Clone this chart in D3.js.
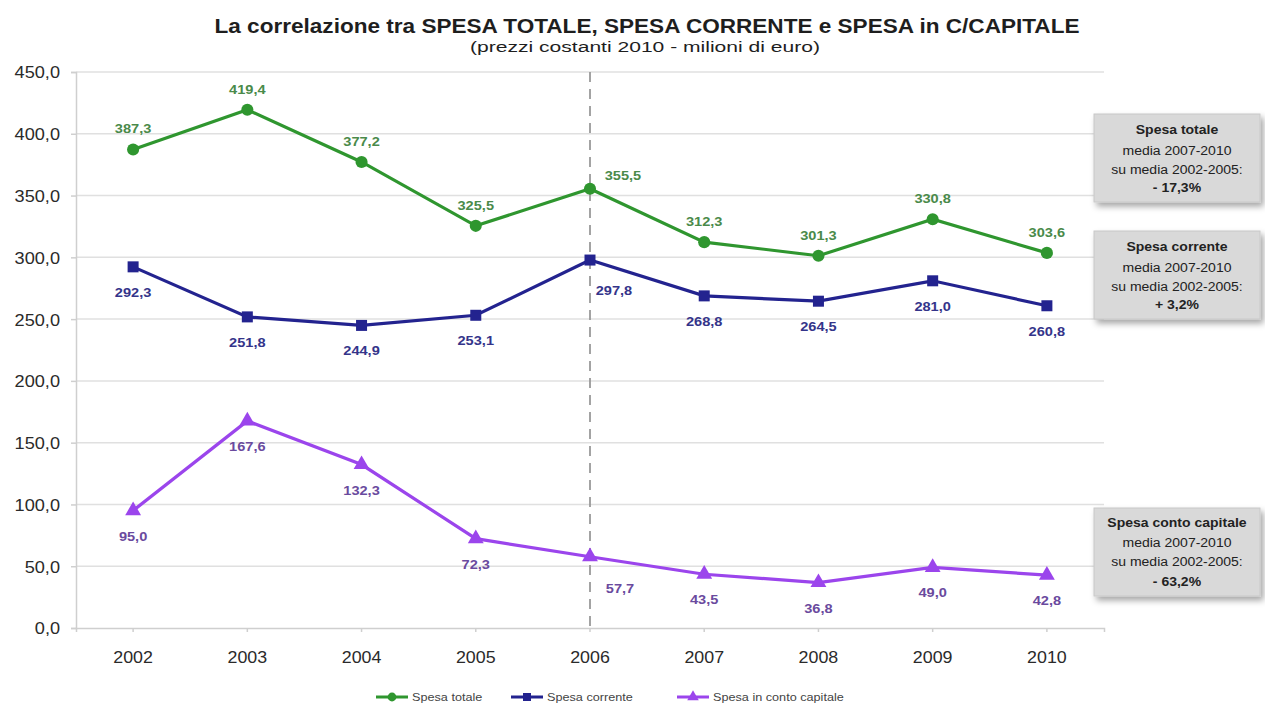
<!DOCTYPE html>
<html><head><meta charset="utf-8">
<script src="https://cdn.jsdelivr.net/npm/d3@7"></script>
<style>body{margin:0;background:#fff;font-family:"Liberation Sans",Arial,sans-serif}</style>
</head><body><svg id="c" width="1265" height="707"></svg>
<script>
const years = ["2002","2003","2004","2005","2006","2007","2008","2009","2010"];
const spesaTotale = [387.3, 419.4, 377.2, 325.5, 355.5, 312.3, 301.3, 330.8, 303.6];
const spesaCorrente = [292.3, 251.8, 244.9, 253.1, 297.8, 268.8, 264.5, 281.0, 260.8];
const spesaCapitale = [95.0, 167.6, 132.3, 72.3, 57.7, 43.5, 36.8, 49.0, 42.8];
const yTicks = [0,50,100,150,200,250,300,350,400,450];
const seriesNames = ["Spesa totale","Spesa corrente","Spesa in conto capitale"];
const boxTexts = [
  ["Spesa totale","media  2007-2010","su media 2002-2005:","- 17,3%"],
  ["Spesa corrente","media  2007-2010","su media 2002-2005:","+ 3,2%"],
  ["Spesa conto capitale","media  2007-2010","su media 2002-2005:","- 63,2%"]
];

const svg = d3.select("#c");
const L=76, R=1104, T=72, B=628;
const x = d3.scaleBand().domain(years).range([L,R]);
const y = d3.scaleLinear().domain([0,450]).range([B,T]);
const cx = d => x(d)+x.bandwidth()/2;
const fmt = v => d3.format(".1f")(v).replace(".",",");
const FONT = "Liberation Sans, Arial, sans-serif";

function stretch(sel, sx){
  sel.each(function(){
    const w = this.getComputedTextLength();
    this.setAttribute("textLength", w*sx);
    this.setAttribute("lengthAdjust","spacingAndGlyphs");
  });
}
function fitWidth(sel, w){
  sel.attr("textLength", w).attr("lengthAdjust","spacingAndGlyphs");
}

const defs = svg.append("defs");
const f = defs.append("filter").attr("id","sh").attr("x","-10%").attr("y","-10%").attr("width","130%").attr("height","130%");
f.append("feDropShadow").attr("dx",3).attr("dy",4).attr("stdDeviation",3).attr("flood-color","#000").attr("flood-opacity",0.35);

// title
const t1 = svg.append("text").attr("x",647).attr("y",33).attr("text-anchor","middle").attr("font-size",21).attr("font-weight","bold").attr("fill","#1e1e1e")
  .text("La correlazione tra SPESA TOTALE, SPESA CORRENTE e SPESA in C/CAPITALE");
fitWidth(t1, 865);
const t2 = svg.append("text").attr("x",645).attr("y",52).attr("text-anchor","middle").attr("font-size",15.5).attr("fill","#1e1e1e")
  .text("(prezzi costanti 2010 - milioni di euro)");
fitWidth(t2, 350);

// grid
svg.append("g").selectAll("line").data(yTicks.filter(d=>d>0)).join("line")
  .attr("x1",L).attr("x2",R).attr("y1",d=>y(d)).attr("y2",d=>y(d)).attr("stroke","#e0e0e0").attr("stroke-width",1.5);

// axes
const ya = svg.append("g").attr("transform",`translate(${L},0)`).call(d3.axisLeft(y).tickValues(yTicks).tickFormat(fmt).tickSize(5).tickPadding(11));
ya.selectAll("text").attr("font-size",16.5).attr("fill","#2a2a2a").attr("font-family",FONT).attr("dy","0.36em");
stretch(ya.selectAll("text"), 1.1);
ya.selectAll("line,path").attr("stroke","#cfcfcf").attr("stroke-width",1.5);
const xa = svg.append("g").attr("transform",`translate(0,${B})`).call(d3.axisBottom(x).tickSize(4).tickPadding(19));
xa.selectAll("text").attr("font-size",16.5).attr("fill","#2a2a2a").attr("font-family",FONT);
stretch(xa.selectAll("text"), 1.08);
xa.selectAll("line,path").attr("stroke","#cfcfcf").attr("stroke-width",1.5);

// dashed line at 2006
svg.append("line").attr("x1",cx("2006")).attr("x2",cx("2006")).attr("y1",T).attr("y2",B)
  .attr("stroke","#9a9a9a").attr("stroke-width",1.8).attr("stroke-dasharray","10,7");

const series = [
  {name:seriesNames[0], vals:spesaTotale, color:"#2f962f", lab:"#4a8a4a", marker:"circle", pos:"above", off2006:[33,-9]},
  {name:seriesNames[1], vals:spesaCorrente, color:"#23238f", lab:"#34348a", marker:"square", pos:"below", off2006:[24,35]},
  {name:seriesNames[2], vals:spesaCapitale, color:"#9b45ec", lab:"#6a4a9e", marker:"triangle", pos:"below", off2006:[30,36]}
];
const line = d3.line().x((d,i)=>cx(years[i])).y(d=>y(d));

function marker(g, type, color, size){
  if(type==="circle") g.append("circle").attr("r",size*0.55).attr("fill",color);
  else if(type==="square") g.append("rect").attr("x",-size*0.5).attr("y",-size*0.5).attr("width",size).attr("height",size).attr("fill",color);
  else g.append("path").attr("d",d3.symbol(d3.symbolTriangle, size*size*0.9)()).attr("fill",color);
}

series.forEach(s=>{
  svg.append("path").datum(s.vals).attr("d",line).attr("fill","none").attr("stroke",s.color).attr("stroke-width",3.2);
  s.vals.forEach((v,i)=>{
    const g = svg.append("g").attr("transform",`translate(${cx(years[i])},${y(v)})`);
    marker(g, s.marker, s.color, 11);
    let lx = cx(years[i]), ly = s.pos==="above" ? y(v)-16 : y(v)+30;
    if(years[i]==="2006"){ lx += s.off2006[0]; ly = y(v)+s.off2006[1]; }
    const tx = svg.append("text").attr("x",lx).attr("y",ly).attr("text-anchor","middle").attr("font-size",13.5).attr("font-weight","bold")
      .attr("fill",s.lab).text(fmt(v));
    stretch(tx, 1.08);
  });
});

// boxes
const boxes = [{y:114, ty:[134,155,174,192]},{y:231, ty:[251,272,291,309]},{y:508, ty:[527,547,566,586]}];
boxes.forEach((b,k)=>{
  const g = svg.append("g");
  g.append("rect").attr("x",1094).attr("y",b.y).attr("width",166).attr("height",88).attr("fill","#d9d9d9").attr("stroke","#c8c8c8").attr("filter","url(#sh)");
  boxTexts[k].forEach((t,j)=>{
    const tx = g.append("text").attr("x",1177).attr("y",b.ty[j]).attr("text-anchor","middle").attr("font-size",12.5)
      .attr("font-weight",(j===0||j===3)?"bold":"normal").attr("fill","#222").text(t);
    stretch(tx, 1.12);
  });
});

// legend
const lg = svg.append("g").attr("transform","translate(0,697)");
const legX = [376, 511, 677];
series.forEach((s,i)=>{
  const g = lg.append("g").attr("transform",`translate(${legX[i]},0)`);
  g.append("line").attr("x1",0).attr("x2",32).attr("stroke",s.color).attr("stroke-width",3);
  const m = g.append("g").attr("transform","translate(16,0)");
  marker(m, s.marker, s.color, 8);
  const tx = g.append("text").attr("x",36).attr("y",4).attr("font-size",11.5).attr("fill","#444").text(s.name);
  stretch(tx, 1.1);
});
</script></body></html>
